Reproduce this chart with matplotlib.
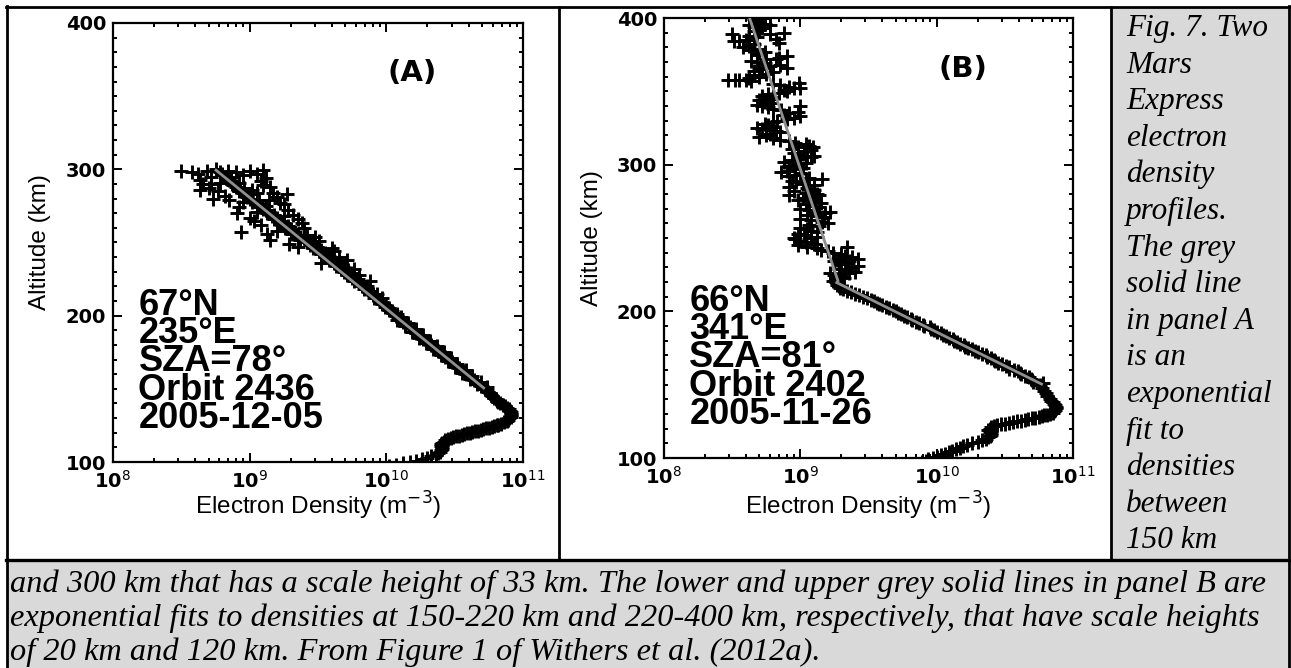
import numpy as np
import matplotlib.pyplot as plt
from matplotlib.patches import Rectangle
from matplotlib.lines import Line2D
from matplotlib.ticker import FixedLocator, NullFormatter

plt.rcParams['mathtext.fontset'] = 'dejavusans'

# ---- panel A, orbit 2436: altitude (km) and log10 electron density (m^-3)
a_alt = [95, 96, 97, 98, 99, 100, 101, 102, 103, 104, 105, 106, 107, 108,
         109, 110, 111, 112, 113, 114, 115, 116,
         116.5, 117, 117.5, 118, 118.5, 119, 119.5, 120, 120.5, 121, 121.5,
         122, 122.5, 123, 123.5, 124, 124.5, 125, 125.5, 126,
         127, 128, 129, 130, 131, 132, 133, 134, 135, 136, 137, 138, 139,
         140, 141, 142, 143, 144, 145, 146, 147, 148, 149, 150,
         152, 154, 156, 158, 160, 162, 164, 166, 168, 170, 172, 174, 176,
         178, 180, 182, 184, 186, 188, 190, 192, 194, 196, 198, 200, 202,
         204, 206, 208, 210, 212, 214, 216, 218, 220, 222, 224, 226, 228,
         230, 232, 234, 236, 238, 240, 242, 244, 246, 248, 250, 252, 254,
         256, 258, 260, 262, 264, 266, 268, 270, 272, 274, 276, 278, 280,
         282, 284, 286, 288, 290, 292, 294, 296, 298, 300]
a_log = [9.92, 9.97, 10.02, 10.07, 10.12, 10.17, 10.22, 10.26, 10.30, 10.33,
         10.36, 10.38, 10.39, 10.40, 10.41, 10.41, 10.40, 10.40, 10.41, 10.42,
         10.43, 10.45,
         10.47, 10.49, 10.51, 10.53, 10.55, 10.57, 10.59, 10.61, 10.63, 10.65,
         10.67, 10.69, 10.71, 10.73, 10.75, 10.77, 10.79, 10.81, 10.82, 10.84,
         10.86, 10.88, 10.89, 10.90, 10.91, 10.915, 10.915, 10.91, 10.905,
         10.895, 10.88, 10.865, 10.85, 10.835, 10.82, 10.81, 10.80, 10.785,
         10.775, 10.765, 10.755, 10.745, 10.735, 10.725,
         10.69, 10.665, 10.64, 10.61, 10.585, 10.56, 10.53, 10.51, 10.48,
         10.46, 10.43, 10.41, 10.38, 10.35, 10.33, 10.30, 10.27, 10.25, 10.22,
         10.20, 10.17, 10.14, 10.12, 10.09, 10.07, 10.05, 10.02, 9.99, 9.97,
         9.95, 9.91, 9.90, 9.87, 9.84, 9.82, 9.80, 9.76, 9.75, 9.71, 9.69,
         9.67, 9.63, 9.62, 9.58, 9.55, 9.52, 9.51, 9.46, 9.44, 9.42, 9.37,
         9.36, 9.31, 9.30, 9.26, 9.24, 9.22, 9.18, 9.16, 9.13, 9.12, 9.07,
         9.06, 9.02, 9.00, 8.98, 8.95, 8.93, 8.90, 8.87, 8.86, 8.83, 8.80,
         8.78, 8.75]
# extra (noisier) samples in the topside of panel A
a_sc_alt = [299, 299, 298, 299, 299.5, 297, 296, 293, 292, 290, 290, 289, 286,
            285, 284, 283, 284, 280, 279, 279, 277, 270, 271, 269, 268, 265,
            263, 257, 256, 255, 252, 251, 249, 246, 240, 238, 236, 232, 228,
            224, 220, 215, 212,
            151, 153, 155, 157, 159, 161, 163, 165, 167, 169, 171, 173, 175,
            177, 179, 181, 183, 185, 187, 189, 191, 193, 195, 197, 199,
            201, 203, 205, 207, 209, 211, 213, 215, 217, 219, 221, 223, 225,
            227, 229, 231, 233, 235, 237, 239, 241, 243, 245, 247, 249, 251,
            253, 255, 257, 259, 261, 263, 265, 267, 269, 271, 273, 275, 277,
            279, 281, 283, 285, 287, 289, 291, 293, 295, 297, 299,
            298, 297, 295, 294, 291, 288, 287, 286, 282, 281, 278, 276, 274,
            272, 267, 266, 262, 260, 258, 254, 247, 244]
a_sc_log = [8.50, 8.69, 8.90, 9.00, 9.10, 8.62, 8.95, 8.64, 9.08, 8.66, 8.72,
            9.10, 8.64, 8.77, 9.17, 9.27, 9.05, 8.73, 8.85, 9.14, 9.22, 8.91,
            9.05, 9.32, 9.25, 9.03, 9.38, 8.94, 9.13, 9.42, 9.15, 9.51, 9.29,
            9.60, 9.65, 9.71, 9.52, 9.76, 9.80, 9.88, 9.86, 9.93, 9.97,
            10.74, 10.66, 10.69, 10.61, 10.63, 10.55, 10.58, 10.50, 10.52,
            10.45, 10.47, 10.40, 10.42, 10.34, 10.37, 10.29, 10.32, 10.24,
            10.27, 10.19, 10.22, 10.14, 10.16, 10.08, 10.11,
            10.08, 10.04, 10.02, 9.99, 9.97, 9.95, 9.92, 9.90, 9.88, 9.85,
            9.83, 9.81, 9.79, 9.76, 9.74, 9.72, 9.68, 9.66, 9.65, 9.60, 9.58,
            9.55, 9.52, 9.49, 9.46, 9.44, 9.40, 9.35, 9.33, 9.30, 9.28, 9.25,
            9.22, 9.20, 9.18, 9.14, 9.10, 9.12, 9.05, 9.07, 8.98, 9.00, 8.92,
            8.96, 8.88, 8.92, 8.85, 8.86, 8.80, 8.84,
            8.58, 9.05, 8.72, 9.12, 8.78, 9.15, 8.70, 9.02, 8.82, 9.20, 8.95,
            9.25, 8.92, 9.28, 9.00, 9.35, 9.08, 9.40, 9.20, 9.48, 9.35, 9.62]

# ---- panel B, orbit 2402
b_alt = [95, 96, 97, 98, 99, 100, 101, 102, 103, 104, 105, 106, 107, 108,
         109, 110, 111, 112, 113, 114, 115, 116, 117, 118, 119, 120, 121, 122,
         122.5, 123, 123.5, 124, 124.5, 125, 125.5, 126, 126.5, 127, 127.5,
         128, 128.5, 129, 129.5, 130,
         131, 132, 133, 134, 135, 136, 137, 138, 139, 140, 142, 144, 146,
         148, 150,
         152, 154, 156, 158, 160, 162, 164, 166, 168, 170, 172, 174, 176,
         178, 180, 182, 184, 186, 188, 190, 192, 194, 196, 198, 200, 202,
         204, 206, 208, 210, 212, 214, 216, 218, 220,
         222, 224, 226, 228, 230, 232, 234, 236, 238, 240, 242, 244, 246,
         248, 250, 252, 254, 256, 258, 260, 262, 264, 266, 268, 270, 272,
         274, 276, 278, 280, 282, 284, 286, 288, 290, 292, 294, 296, 298,
         300, 302, 304, 306, 308, 310, 312, 314, 316, 318, 320, 322, 324,
         326, 328, 330, 332, 334, 336, 338, 340, 342, 344, 346, 348, 350,
         352, 354, 356, 358, 360, 362, 364, 366, 368, 370, 372, 374, 376,
         378, 380, 382, 384, 386, 388, 390, 392, 394, 396, 398, 400]
b_log = [9.83, 9.86, 9.89, 9.92, 9.94, 9.97, 10.00, 10.03, 10.06, 10.09,
         10.11, 10.14, 10.17, 10.19, 10.22, 10.26, 10.30, 10.33, 10.36, 10.38,
         10.39, 10.40, 10.40, 10.39, 10.38, 10.39, 10.40, 10.42,
         10.44, 10.47, 10.50, 10.53, 10.56, 10.59, 10.62, 10.65, 10.67, 10.70,
         10.72, 10.75, 10.77, 10.79, 10.81, 10.83,
         10.85, 10.86, 10.87, 10.875, 10.875, 10.87, 10.86, 10.85, 10.84,
         10.83, 10.81, 10.80, 10.79, 10.77, 10.755,
         10.71, 10.69, 10.65, 10.61, 10.57, 10.53, 10.48, 10.43, 10.40, 10.36,
         10.30, 10.26, 10.21, 10.17, 10.13, 10.09, 10.05, 10.00, 9.96, 9.91,
         9.87, 9.82, 9.78, 9.74, 9.70, 9.65, 9.60, 9.56, 9.52, 9.46, 9.40,
         9.34, 9.29, 9.27, 9.26,
         9.27, 9.30, 9.36, 9.33, 9.38, 9.30, 9.36, 9.28, 9.33, 9.24, 9.15,
         9.05, 9.10, 9.00, 9.08, 9.03, 9.12, 9.05, 9.14, 9.20, 9.08, 9.17,
         9.05, 9.12, 9.00, 9.10, 9.15, 8.98, 9.08, 9.12, 8.95, 9.05, 9.10,
         8.97, 9.04, 8.92, 9.00, 8.90, 9.02, 8.96, 8.88, 9.00, 9.05, 8.95,
         9.08, 8.98, 9.04, 8.92, 8.80, 8.75, 8.85, 8.72, 8.80, 8.74, 8.83,
         8.95, 8.88, 8.98, 8.80, 8.72, 8.78, 8.70, 8.80, 8.76, 8.90, 8.95,
         8.85, 8.99, 8.55, 8.70, 8.75, 8.66, 8.72, 8.85, 8.68, 8.75, 8.90,
         8.70, 8.64, 8.58, 8.66, 8.55, 8.82, 8.62, 8.88, 8.70, 8.66, 8.74,
         8.68, 8.72]
b_sc_alt = [357.5, 357.5, 357.5, 384, 372, 366, 352, 340, 312, 306, 290, 279,
            268, 250, 236, 244, 234, 226, 395, 389,
            151, 153, 155, 157, 159, 161, 163, 165, 167, 169, 171, 173, 175,
            177, 179, 181, 183, 185, 187, 189, 191, 193, 195, 197, 199, 201,
            203, 205, 207, 209, 211, 213, 215, 217, 219,
            221, 223, 225, 227, 229, 231, 233, 235, 237, 239, 241, 243, 245,
            247, 249, 251, 253, 255, 257, 259, 261, 263, 265, 267, 269, 271,
            273, 275, 277, 279, 281, 283, 285, 287, 289, 291, 293, 295, 297,
            299, 301, 303, 305, 307, 309, 311, 313, 315, 317, 319, 321, 323,
            325, 327, 329, 331, 333, 335, 337, 339, 341, 343, 345, 347, 349,
            351, 353, 355, 357, 359, 361, 363, 365, 367, 369, 371, 373, 375,
            377, 379, 381, 383, 385, 387, 389, 391, 393, 395, 397, 399]
b_sc_log = [8.47, 8.52, 8.60, 8.51, 8.82, 8.90, 9.00, 9.00, 9.09, 9.10, 9.16,
            8.92, 9.22, 8.95, 9.42, 9.34, 9.25, 9.22, 8.78, 8.50,
            10.78, 10.70, 10.68, 10.62, 10.60, 10.53, 10.51, 10.45, 10.42,
            10.37, 10.33, 10.28, 10.23, 10.20, 10.15, 10.12, 10.07, 10.03,
            9.98, 9.95, 9.90, 9.85, 9.81, 9.76, 9.72, 9.68, 9.63, 9.58, 9.54,
            9.49, 9.43, 9.37, 9.31, 9.28, 9.27,
            9.24, 9.32, 9.25, 9.40, 9.28, 9.42, 9.35, 9.27, 9.38, 9.30, 9.20,
            9.12, 8.98, 9.04, 8.96, 9.12, 8.98, 9.08, 9.00, 9.06, 9.16, 9.00,
            9.12, 9.18, 9.06, 9.14, 9.04, 9.10, 9.02, 9.14, 9.04, 9.10, 8.92,
            9.02, 8.94, 9.06, 8.96, 8.86, 8.96, 8.92, 9.04, 8.94, 9.08, 8.98,
            9.03, 8.94, 9.06, 8.96, 8.85, 8.70, 8.78, 8.82, 8.68, 8.76, 8.80,
            8.90, 9.00, 8.92, 8.86, 8.76, 8.68, 8.74, 8.78, 8.72, 8.84, 8.88,
            8.92, 8.80, 8.64, 8.62, 8.66, 8.80, 8.70, 8.78, 8.74, 8.64, 8.84,
            8.68, 8.74, 8.70, 8.62, 8.84, 8.60, 8.68, 8.78, 8.66, 8.72, 8.62,
            8.70, 8.66]

# exponential fits: (bottom alt, top alt, density at bottom, scale height)
a_fits = [(150, 300, 5.25e10, 33)]
b_fits = [(150, 220, 6.0e10, 20), (220, 400, 1.9e9, 120)]

a_info = ['67\u00b0N', '235\u00b0E', 'SZA=78\u00b0', 'Orbit 2436', '2005-12-05']
b_info = ['66\u00b0N', '341\u00b0E', 'SZA=81\u00b0', 'Orbit 2402', '2005-11-26']

side_caption = ['Fig. 7. Two', 'Mars', 'Express', 'electron', 'density',
                'profiles.', 'The grey', 'solid line', 'in panel A', 'is an',
                'exponential', 'fit to', 'densities', 'between', '150 km']
bottom_caption = [
    'and 300 km that has a scale height of 33 km. The lower and upper grey solid lines in panel B are',
    'exponential fits to densities at 150-220 km and 220-400 km, respectively, that have scale heights',
    'of 20 km and 120 km. From Figure 1 of Withers et al. (2012a).']

W, H = 1291, 668
fig = plt.figure(figsize=(W / 100, H / 100), dpi=100)
fig.patch.set_facecolor('white')


def px(x0, y0, x1, y1):
    return [x0 / W, 1 - y1 / H, (x1 - x0) / W, (y1 - y0) / H]


def hline(y, x0, x1, lw=2.0):
    fig.add_artist(Line2D([x0 / W, x1 / W], [1 - y / H, 1 - y / H],
                          transform=fig.transFigure, color='k', lw=lw))


def vline(x, y0, y1, lw=2.0):
    fig.add_artist(Line2D([x / W, x / W], [1 - y0 / H, 1 - y1 / H],
                          transform=fig.transFigure, color='k', lw=lw))


grey = '#d9d9d9'
for r in (px(1111, 7, 1289, 560), px(7, 560, 1289, 668)):
    fig.add_artist(Rectangle((r[0], r[1]), r[2], r[3], transform=fig.transFigure,
                             facecolor=grey, edgecolor='none', zorder=0))
hline(7, 6, 1290)
hline(560, 6, 1290, lw=2.4)
vline(7, 6, 668)
vline(1289, 6, 668)
vline(559, 7, 560)
vline(1111, 7, 560)


def panel(rect, alt, logn, sc_alt, sc_log, fits, tag, info, xlab_y):
    ax = fig.add_axes(rect)
    ax.set_xscale('log')
    ax.set_xlim(1e8, 1e11)
    ax.set_ylim(100, 400)
    mk = dict(ls='none', marker='+', color='k', ms=9.5, mew=2.1, zorder=2)
    ax.plot(10 ** np.array(logn), alt, **mk)
    ax.plot(10 ** np.array(sc_log), sc_alt, **mk)
    for z0, z1, n0, hs in fits:
        z = np.linspace(z0, z1, 50)
        ax.plot(n0 * np.exp(-(z - z0) / hs), z, color='#909090', lw=2.0,
                solid_capstyle='butt', zorder=3)

    for s in ax.spines.values():
        s.set_linewidth(1.6)
    ax.xaxis.set_major_locator(FixedLocator([1e8, 1e9, 1e10, 1e11]))
    ax.xaxis.set_minor_locator(FixedLocator(
        [m * 10 ** e for e in (8, 9, 10) for m in range(2, 10)]))
    ax.xaxis.set_minor_formatter(NullFormatter())
    ax.set_xticklabels([r'$\mathbf{10}^{%d}$' % e for e in (8, 9, 10, 11)])
    ax.yaxis.set_major_locator(FixedLocator([100, 200, 300, 400]))
    ax.yaxis.set_minor_locator(FixedLocator(range(110, 400, 10)))
    ax.set_yticklabels(['100', '200', '300', '400'], fontweight='bold')
    ax.tick_params(which='both', direction='in', top=True, right=True,
                   width=1.4, labelsize=14)
    ax.tick_params(which='major', length=6.5)
    ax.tick_params(which='minor', length=3)
    ax.tick_params(axis='y', pad=5)
    ax.tick_params(axis='x', pad=6)

    ax.text(-0.177, 0.5, 'Altitude (km)', transform=ax.transAxes, rotation=90,
            ha='center', va='center', fontsize=17.5, family='Liberation Sans')
    ax.text(0.5, xlab_y, 'Electron Density (m$^{-3}$)', transform=ax.transAxes,
            ha='center', va='baseline', fontsize=17.5, family='Liberation Sans')
    ax.text(0.73, 0.885, tag, transform=ax.transAxes, ha='center', va='center',
            fontsize=21, fontweight='bold', family='DejaVu Sans')
    for i, line in enumerate(info):
        ax.text(0.062, 0.335 - i * 0.0644, line, transform=ax.transAxes,
                ha='left', va='baseline', fontsize=26, fontweight='bold',
                family='Liberation Sans')
    return ax


panel(px(113, 23, 523, 462), a_alt, a_log, a_sc_alt, a_sc_log, a_fits, '(A)',
      a_info, -0.120)
panel(px(664, 18, 1073, 458), b_alt, b_log, b_sc_alt, b_sc_log, b_fits, '(B)',
      b_info, -0.129)

for i, line in enumerate(side_caption):
    fig.text(1126 / W, 1 - (36 + i * 36.6) / H, line, ha='left', va='baseline',
             fontsize=22.5, style='italic', family='Liberation Serif')
for i, line in enumerate(bottom_caption):
    fig.text(10 / W, 1 - (592 + i * 34) / H, line, ha='left', va='baseline',
             fontsize=23.3, style='italic', family='Liberation Serif')

fig.savefig('out.png', dpi=100)
